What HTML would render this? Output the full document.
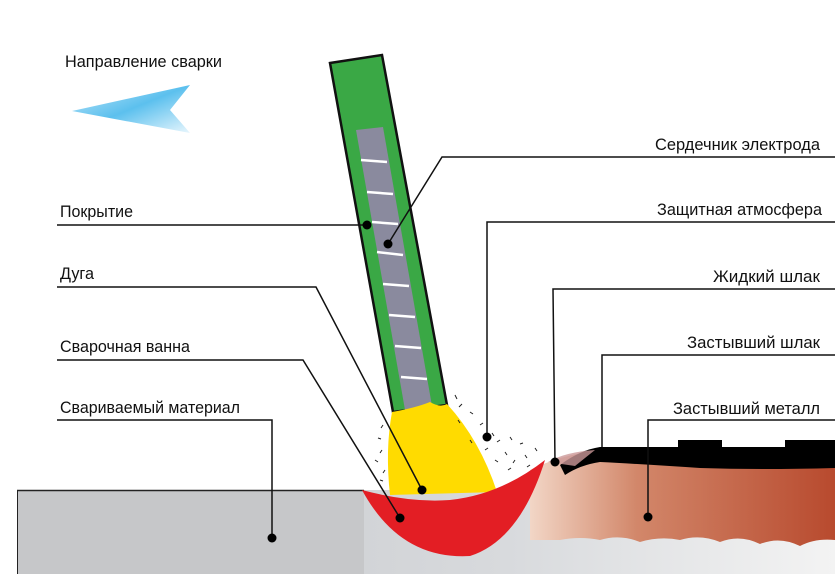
<!DOCTYPE html>
<html><head><meta charset="utf-8"><style>
html,body{margin:0;padding:0;background:#fff;width:835px;height:574px;overflow:hidden}
text{font-family:"Liberation Sans",sans-serif;font-size:16.5px;fill:#111}
</style></head><body>
<svg width="835" height="574" viewBox="0 0 835 574" xmlns="http://www.w3.org/2000/svg">
<defs>
<linearGradient id="ar" x1="0" y1="0" x2="1" y2="1">
<stop offset="0" stop-color="#bfe6f8"/><stop offset="0.5" stop-color="#5cc0ee"/><stop offset="1" stop-color="#e8f6fd"/></linearGradient>
<linearGradient id="gr" x1="0" y1="0" x2="1" y2="0">
<stop offset="0" stop-color="#c4c6c9"/><stop offset="0.6" stop-color="#d8dadd"/><stop offset="1" stop-color="#f3f3f3"/></linearGradient>
<linearGradient id="br" x1="0" y1="0" x2="1" y2="0">
<stop offset="0" stop-color="#f2d6c6"/><stop offset="0.35" stop-color="#d2876a"/><stop offset="1" stop-color="#b84a2e"/></linearGradient>
</defs>
<rect x="17" y="490" width="818" height="84" fill="url(#gr)"/>
<path d="M17 490 H364 V574 H17Z" fill="#c6c7c9"/>
<line x1="17" y1="490.5" x2="364" y2="490.5" stroke="#222" stroke-width="1.5"/>
<line x1="17.5" y1="490" x2="17.5" y2="574" stroke="#222" stroke-width="1"/>
<path d="M530 470 Q560 455 600 450 L835 450 V540 Q815 538 800 546 Q780 536 760 544 Q740 534 720 542 Q700 534 680 540 Q660 536 640 542 Q620 534 600 540 Q580 536 560 540 L530 540Z" fill="url(#br)"/>
<path d="M560 465 Q580 450 600 447 L678 447 V440 H722 V447 H785 V440 H835 V468 Q760 470 700 468 Q640 464 600 462 Q580 465 565 475Z" fill="#000"/>
<path d="M548 462 Q565 452 595 450 L575 466 Z" fill="#c99" opacity="0.8"/>
<polygon points="330,63 382,55 447,405 393,412" fill="#3aa845" stroke="#111" stroke-width="2.5"/>
<polygon points="356,130 383,127 432,406 405,410" fill="#8a8a9e"/>
<g stroke="#fff" stroke-width="2.5">
<line x1="361" y1="160" x2="387" y2="162"/><line x1="367" y1="192" x2="393" y2="194"/>
<line x1="372" y1="222" x2="398" y2="224"/><line x1="377" y1="252" x2="403" y2="255"/>
<line x1="383" y1="284" x2="409" y2="286"/><line x1="389" y1="315" x2="415" y2="317"/>
<line x1="395" y1="346" x2="421" y2="348"/><line x1="401" y1="377" x2="427" y2="379"/>
</g>
<path d="M392 412 Q415 408 430 402 Q440 408 447 404 Q480 440 497 492 L390 495 Q385 450 392 412Z" fill="#ffdb00"/>
<path d="M362 490 Q410 503 450 500 Q500 495 545 460 Q520 540 470 556 Q400 560 362 490Z" fill="#e31e24"/>
<g stroke="#222" stroke-width="1">
<path d="M455 395l2 4M462 404l-3 3M470 412l3 2M458 420l2 3M480 425l3 -2M492 433l2 3M500 440l-3 2M510 437l2 3M520 444l3 -1M505 452l2 3M515 460l-2 3M495 460l3 2M525 455l2 3M530 465l-3 2M383 425l-2 3M378 438l3 1M382 450l-2 3M375 460l3 2M385 470l-2 3M380 480l3 1M470 440l2 3M488 448l-3 2M535 448l2 3M508 470l3 -2"/>
</g>
<polygon points="72,111 190,85 170,110 190,133" fill="url(#ar)"/>
<g stroke="#111" stroke-width="1.5" fill="none">
<polyline points="835,157 442,157 388,244"/>
<polyline points="57,225 367,225"/>
<polyline points="835,222 487,222 487,437"/>
<polyline points="57,287 316,287 422,490"/>
<polyline points="835,289 553,289 555,462"/>
<polyline points="57,360 303,360 400,518"/>
<polyline points="835,355 602,355 602,447"/>
<polyline points="57,420 272,420 272,538"/>
<polyline points="835,420 648,420 648,517"/>
</g>
<g fill="#000">
<circle cx="388" cy="244" r="4.5"/><circle cx="367" cy="225" r="4.5"/><circle cx="487" cy="437" r="4.5"/>
<circle cx="422" cy="490" r="4.5"/><circle cx="555" cy="462" r="4.5"/><circle cx="400" cy="518" r="4.5"/>
<circle cx="272" cy="538" r="4.5"/><circle cx="648" cy="517" r="4.5"/>
</g>
<g lengthAdjust="spacingAndGlyphs">
<text x="65" y="67" textLength="157" lengthAdjust="spacingAndGlyphs">Направление сварки</text>
<text x="60" y="217" textLength="73" lengthAdjust="spacingAndGlyphs">Покрытие</text>
<text x="60" y="279" textLength="34" lengthAdjust="spacingAndGlyphs">Дуга</text>
<text x="60" y="352" textLength="130" lengthAdjust="spacingAndGlyphs">Сварочная ванна</text>
<text x="60" y="413" textLength="180" lengthAdjust="spacingAndGlyphs">Свариваемый материал</text>
<text x="655" y="150" textLength="165" lengthAdjust="spacingAndGlyphs">Сердечник электрода</text>
<text x="657" y="215" textLength="165" lengthAdjust="spacingAndGlyphs">Защитная атмосфера</text>
<text x="713" y="282" textLength="107" lengthAdjust="spacingAndGlyphs">Жидкий шлак</text>
<text x="687" y="348" textLength="133" lengthAdjust="spacingAndGlyphs">Застывший шлак</text>
<text x="673" y="414" textLength="147" lengthAdjust="spacingAndGlyphs">Застывший металл</text>
</g>
</svg>
</body></html>
